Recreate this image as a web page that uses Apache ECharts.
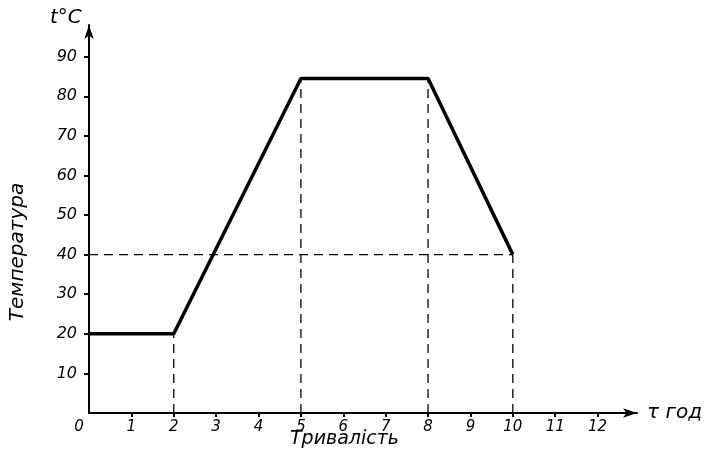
<!DOCTYPE html>
<html><head><meta charset="utf-8">
<script src="https://cdn.jsdelivr.net/npm/echarts@6/dist/echarts.min.js"></script>
<style>html,body{margin:0;padding:0;background:#fff}#c{width:715px;height:470px}</style>
</head><body><div id="c"></div>
<script>
const hours = [0, 2, 5, 8, 10];
const temps = [20, 20, 84.5, 84.5, 40];
const xTicks = [0,1,2,3,4,5,6,7,8,9,10,11,12];
const yTicks = [10,20,30,40,50,60,70,80,90];
const refTemp = 40;
const FONT = 'DejaVu Sans';

const chart = echarts.init(document.getElementById('c'));
const guides = [];
hours.forEach((h, i) => {
  if (h > 0) guides.push([[h, 0], [h, temps[i]]]);
});
guides.push([[0, refTemp], [hours[hours.length - 1], refTemp]]);

const dashSeries = guides.map(seg => ({
  type: 'line', data: seg, symbol: 'none', silent: true, z: 1,
  lineStyle: { color: '#000', width: 1.3, type: [9, 6] }
}));

chart.setOption({
  animation: false,
  grid: { left: 89, top: 25, width: 548, height: 388 },
  xAxis: {
    type: 'value', min: 0, max: 12.93, interval: 1,
    axisLine: { lineStyle: { color: '#000', width: 2 }, symbol: ['none', 'arrow'], symbolSize: [7, 14] },
    axisTick: { show: true, inside: false, length: 4, lineStyle: { color: '#000', width: 2 },
      customValues: xTicks.filter(v => v > 0) },
    splitLine: { show: false },
    axisLabel: {
      color: '#000', fontFamily: FONT, fontStyle: 'italic', fontSize: 15, margin: 7,
      customValues: xTicks,
      formatter: v => v === 0 ? '{z|0}' : String(v),
      rich: { z: { fontFamily: FONT, fontStyle: 'italic', fontSize: 15, color: '#000', padding: [0, 20, 0, 0] } }
    },
    name: 'τ год', nameLocation: 'end', nameGap: 10,
    nameTextStyle: { color: '#000', fontFamily: FONT, fontStyle: 'italic', fontSize: 20, verticalAlign: 'middle' }
  },
  yAxis: {
    type: 'value', min: 0, max: 98, interval: 10,
    axisLine: { lineStyle: { color: '#000', width: 2 }, symbol: ['none', 'arrow'], symbolSize: [7, 14] },
    axisTick: { show: true, inside: false, length: 5, lineStyle: { color: '#000', width: 2 }, customValues: yTicks },
    splitLine: { show: false },
    axisLabel: {
      color: '#000', fontFamily: FONT, fontStyle: 'italic', fontSize: 16, margin: 12,
      customValues: yTicks,
      formatter: v => String(v)
    }
  },
  graphic: [
    { type: 'text', left: 50, top: 8, style: { text: 't°C', font: 'italic 20px "DejaVu Sans"', fill: '#000' } },
    { type: 'text', left: 290, top: 430, style: { text: 'Тривалість', font: 'italic 19px "DejaVu Sans"', fill: '#000' } },
    { type: 'text', x: 18, y: 252, rotation: Math.PI / 2,
      style: { text: 'Температура', font: 'italic 20px "DejaVu Sans"', fill: '#000', align: 'center', verticalAlign: 'middle' } }
  ],
  series: [
    ...dashSeries,
    { type: 'line', data: hours.map((h, i) => [h, temps[i]]), symbol: 'none', z: 3,
      lineStyle: { color: '#000', width: 3.5 } }
  ]
});
</script></body></html>
